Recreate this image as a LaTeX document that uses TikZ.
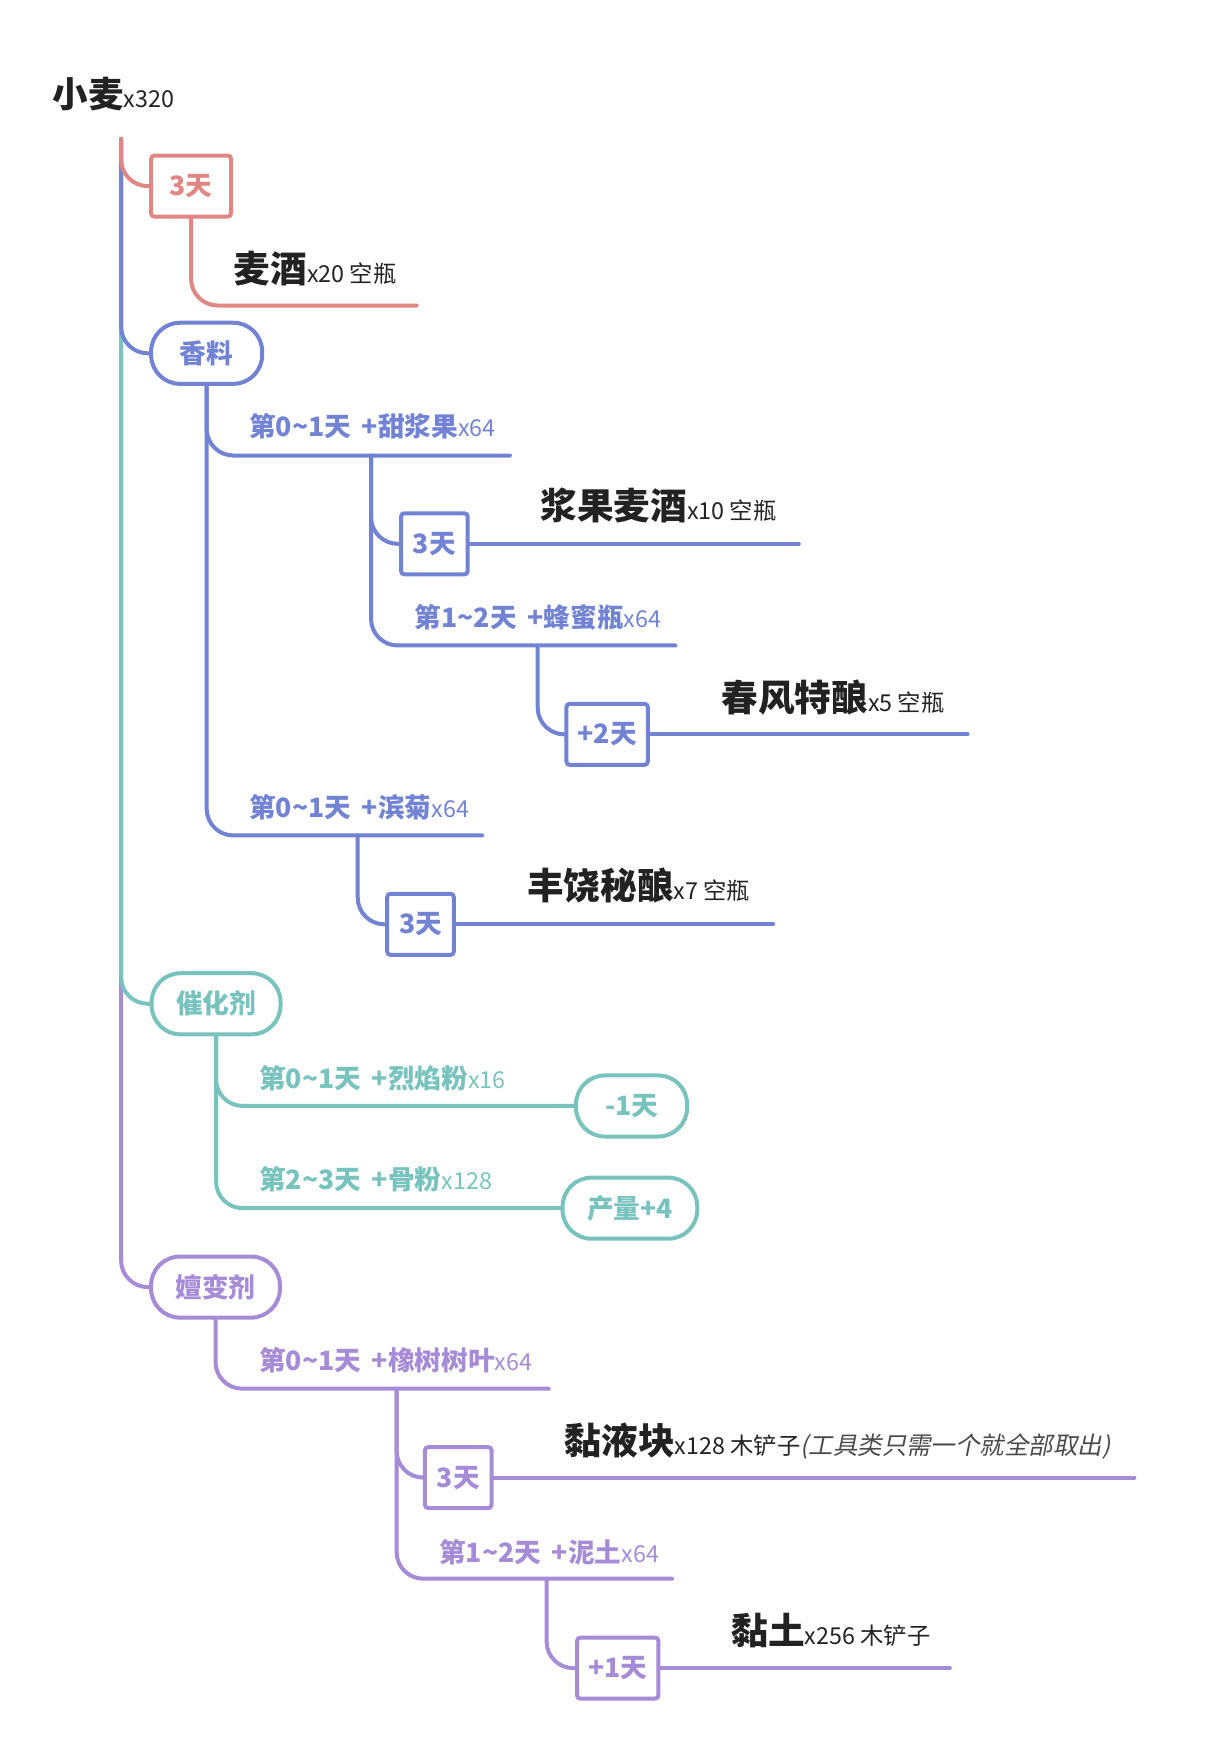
\documentclass[tikz,border=0pt]{standalone}
\usepackage{fontspec}
\setmainfont{Noto Sans CJK SC}
\newfontfamily\noteit{Noto Sans CJK SC}[FakeSlant=0.2]
\definecolor{branchred}{HTML}{E08683}
\definecolor{branchblue}{HTML}{7283D4}
\definecolor{branchteal}{HTML}{78C3BE}
\definecolor{branchpurple}{HTML}{A68BD6}
\definecolor{ink}{HTML}{222222}
\definecolor{notegray}{HTML}{4A4A4A}
\newcommand{\amt}[1]{{\mdseries\fontsize{10.5}{12}\selectfont #1}}
\newcommand{\td}{\char"7E\relax}
\newcommand{\gap}{\hspace{0.4em}}

\begin{document}
\begin{tikzpicture}[x=0.5pt,y=-0.5pt,
    link/.style={line width=1.8pt,line cap=round,rounded corners=12pt},
    daybox/.style={draw,line width=1.8pt,rounded corners=1.5pt,fill=white,
      minimum height=27.5pt,minimum width=30pt,inner xsep=5pt,
      font=\bfseries\fontsize{12}{14}\selectfont},
    pill/.style={draw,line width=1.8pt,rounded corners=13pt,fill=white,
      minimum height=27.5pt,minimum width=50pt,inner xsep=11pt,
      font=\bfseries\fontsize{12}{14}\selectfont},
    steplabel/.style={anchor=base west,inner sep=0pt,
      font=\bfseries\fontsize{12}{14}\selectfont},
    product/.style={anchor=base west,inner sep=0pt,text=ink,
      font=\bfseries\fontsize{16.5}{20}\selectfont},
    onred/.style={draw=branchred,text=branchred},
    onblue/.style={draw=branchblue,text=branchblue},
    onteal/.style={draw=branchteal,text=branchteal},
    onpurple/.style={draw=branchpurple,text=branchpurple}]
  \useasboundingbox (0,0) rectangle (1098,1568);
  % root and first level
  \node[product,font=\bfseries\fontsize{16}{20}\selectfont] (root) at (47,97) {小麦\amt{x320}};
  \coordinate (top) at (109,125);
  \node[daybox,onred,minimum width=36pt] (wait) at (172,167.5) {3天};
  \node[pill,onblue] (spice) at (186,318) {香料};
  \node[pill,onteal] (cat) at (194.5,903.5) {催化剂};
  \node[pill,onpurple] (mut) at (194,1158.5) {嬗变剂};
  % trunk, longest first so the upper colours lie on top
  \draw[link,branchpurple] (top) |- (mut.west);
  \draw[link,branchteal] (top) |- (cat.west);
  \draw[link,branchblue] (top) |- (spice.west);
  \draw[link,branchred] (top) |- (wait.west);

  % plain ale
  \coordinate (e0) at (375,275);
  \draw[link,branchred] (wait.south) |- (e0);
  \node[product] (ale) at (210,254) {麦酒\amt{x20 空瓶}};

  % spice branch
  \node[steplabel,text=branchblue] (s1) at (224,393) {第0\td1天\gap+甜浆果\amt{x64}};
  \coordinate (e1) at (459,410);
  \coordinate (j1) at (334,410);
  \draw[link,branchblue] (spice.south) |- (e1);
  \node[daybox,onblue] (brew1) at (391,489.5) {3天};
  \coordinate (r1) at (719,489.5);
  \draw[link,branchblue] (j1) |- (brew1.west);
  \draw[link,branchblue] (brew1.east) -- (r1);
  \node[product] (p1) at (486,468) {浆果麦酒\amt{x10 空瓶}};

  \node[steplabel,text=branchblue] (s2) at (373,565) {第1\td2天\gap+蜂蜜瓶\amt{x64}};
  \coordinate (e2) at (608,581);
  \coordinate (j2) at (484,581);
  \draw[link,branchblue] (j1) |- (e2);
  \node[daybox,onblue] (brew2) at (546.5,661) {+2天};
  \coordinate (r2) at (871,661);
  \draw[link,branchblue] (j2) |- (brew2.west);
  \draw[link,branchblue] (brew2.east) -- (r2);
  \node[product] (p2) at (649,640) {春风特酿\amt{x5 空瓶}};

  \node[steplabel,text=branchblue] (s3) at (224,736) {第0\td1天\gap+滨菊\amt{x64}};
  \coordinate (e3) at (434,752);
  \coordinate (j3) at (322,752);
  \draw[link,branchblue] (spice.south) |- (e3);
  \node[daybox,onblue] (brew3) at (378.5,832) {3天};
  \coordinate (r3) at (696,832);
  \draw[link,branchblue] (j3) |- (brew3.west);
  \draw[link,branchblue] (brew3.east) -- (r3);
  \node[product] (p3) at (474,810) {丰饶秘酿\amt{x7 空瓶}};

  % catalyst branch
  \node[pill,onteal] (fast) at (568.5,995.5) {-1天};
  \node[pill,onteal] (more) at (567,1087.5) {产量+4};
  \node[steplabel,text=branchteal] (s4) at (233,980) {第0\td1天\gap+烈焰粉\amt{x16}};
  \node[steplabel,text=branchteal] (s5) at (233,1071) {第2\td3天\gap+骨粉\amt{x128}};
  \draw[link,branchteal] (cat.south) |- (fast.west);
  \draw[link,branchteal] (cat.south) |- (more.west);

  % mutagen branch
  \node[steplabel,text=branchpurple] (s6) at (233,1234) {第0\td1天\gap+橡树树叶\amt{x64}};
  \coordinate (e4) at (494,1250);
  \coordinate (j4) at (357,1250);
  \draw[link,branchpurple] (mut.south) |- (e4);
  \node[daybox,onpurple] (brew4) at (412.5,1330) {3天};
  \coordinate (r4) at (1021,1330);
  \draw[link,branchpurple] (j4) |- (brew4.west);
  \draw[link,branchpurple] (brew4.east) -- (r4);
  \node[product] (p4) at (508,1309) {黏液块\amt{x128 木铲子{\noteit\fontsize{11}{12}\selectfont\color{notegray}(工具类只需一个就全部取出)}}};

  \node[steplabel,text=branchpurple] (s7) at (395,1406) {第1\td2天\gap+泥土\amt{x64}};
  \coordinate (e5) at (605,1421);
  \coordinate (j5) at (492,1421);
  \draw[link,branchpurple] (j4) |- (e5);
  \node[daybox,onpurple] (brew5) at (556,1501.5) {+1天};
  \coordinate (r5) at (855,1501.5);
  \draw[link,branchpurple] (j5) |- (brew5.west);
  \draw[link,branchpurple] (brew5.east) -- (r5);
  \node[product] (p5) at (658,1480) {黏土\amt{x256 木铲子}};
\end{tikzpicture}
\end{document}
